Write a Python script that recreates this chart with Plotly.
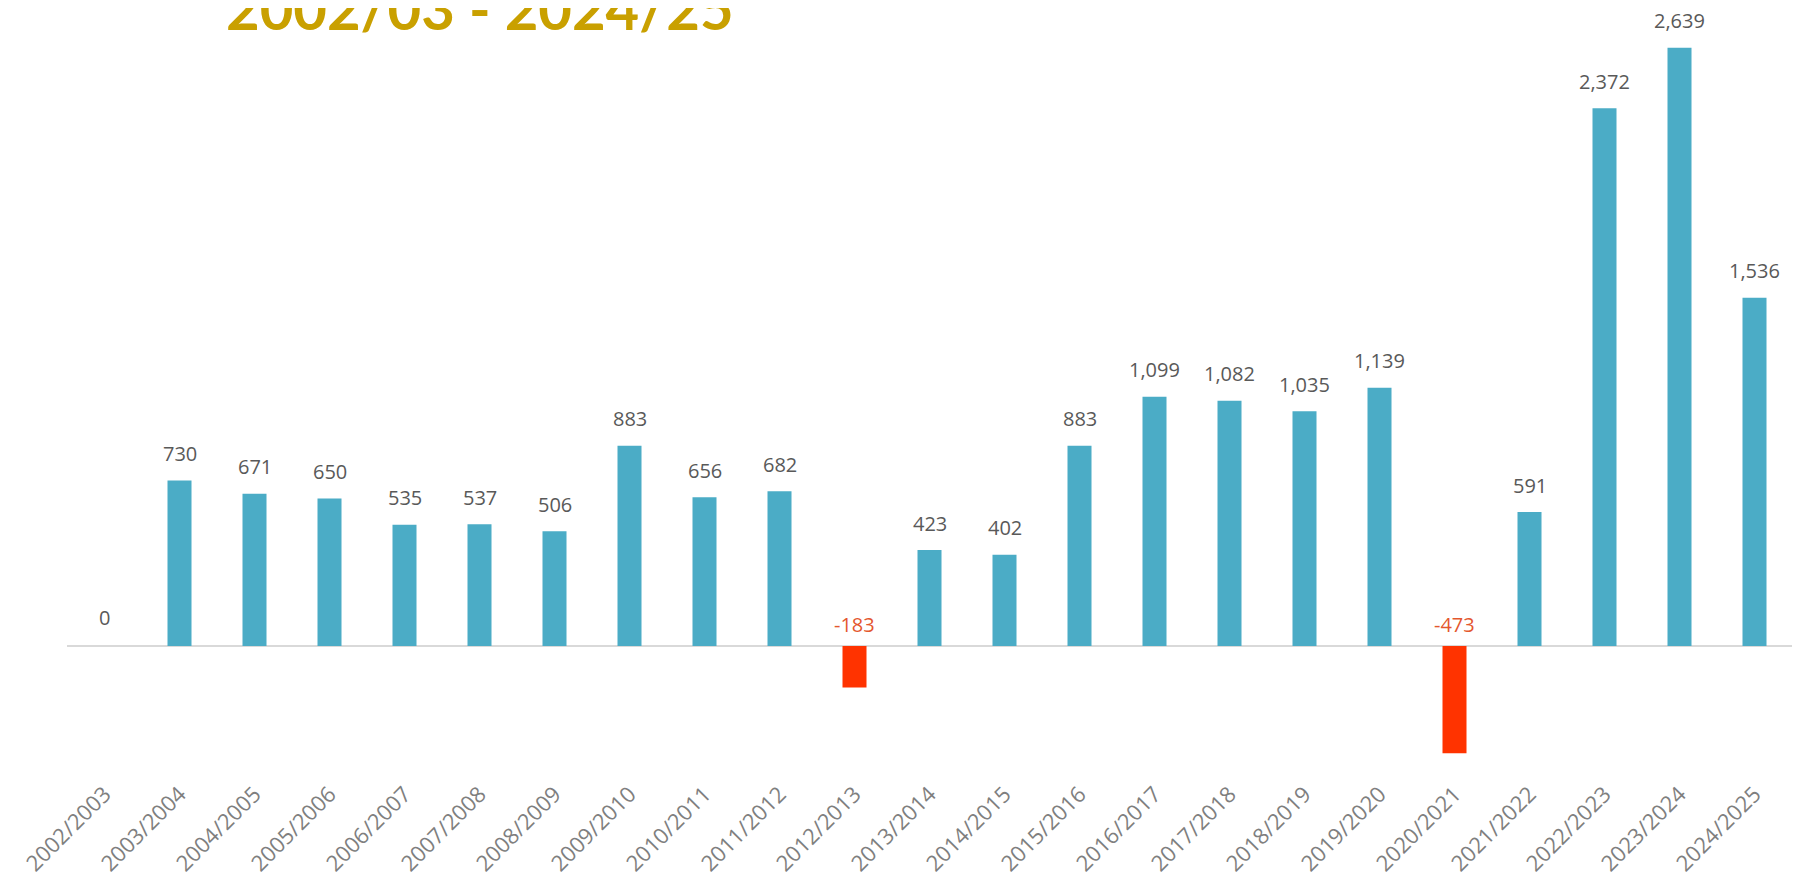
import plotly.graph_objects as go

seasons = ["2002/2003", "2003/2004", "2004/2005", "2005/2006", "2006/2007", "2007/2008",
           "2008/2009", "2009/2010", "2010/2011", "2011/2012", "2012/2013", "2013/2014",
           "2014/2015", "2015/2016", "2016/2017", "2017/2018", "2018/2019", "2019/2020",
           "2020/2021", "2021/2022", "2022/2023", "2023/2024", "2024/2025"]
values = [0, 730, 671, 650, 535, 537, 506, 883, 656, 682, -183, 423, 402, 883,
          1099, 1082, 1035, 1139, -473, 591, 2372, 2639, 1536]
title_text = "2002/03 - 2024/25"

POS_COLOR = "#4BACC6"
NEG_COLOR = "#FF3300"
POS_LABEL = "#595959"
NEG_LABEL = "#E4572E"

bar_colors = [NEG_COLOR if v < 0 else POS_COLOR for v in values]

fig = go.Figure()
fig.add_trace(go.Bar(
    x=seasons, y=values, marker=dict(color=bar_colors, line=dict(width=0)),
    hoverinfo="x+y", showlegend=False,
))

annotations = []
for s, v in zip(seasons, values):
    annotations.append(dict(
        x=s, y=max(v, 0), xref="x", yref="y",
        text=f"{v:,}", showarrow=False, xanchor="center", yanchor="middle",
        yshift=27 if v > 0 else (28 if v == 0 else 21),
        font=dict(family="Open Sans", size=20, color=NEG_LABEL if v < 0 else POS_LABEL),
    ))

annotations.append(dict(
    x=(224 - 67) / 1725, y=1, xref="paper", yref="paper",
    text=f"<b>{title_text}</b>", showarrow=False, xanchor="left", yanchor="bottom",
    yshift=-14,
    font=dict(family="Lato", size=58, color="#C9A000"),
))

fig.update_layout(
    width=1800, height=876,
    margin=dict(l=59, r=16, t=22, b=114),
    paper_bgcolor="white", plot_bgcolor="white",
    bargap=0.68,
    annotations=annotations,
    xaxis=dict(
        type="category", tickangle=-45, showgrid=False, showline=False, ticks="",
        automargin=False, ticklabelstandoff=6,
        tickfont=dict(family="Open Sans", size=22, color="#7F7F7F"),
    ),
    yaxis=dict(
        range=[-547, 2717], showgrid=False, showticklabels=False, showline=False,
        automargin=False,
        zeroline=True, zerolinecolor="#D9D9D9", zerolinewidth=2,
    ),
)

fig.write_html("out.html")
